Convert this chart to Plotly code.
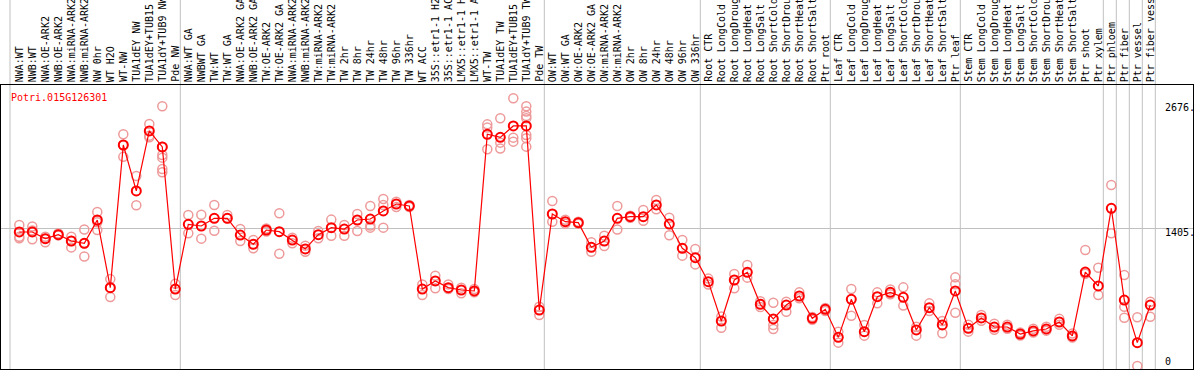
import plotly.graph_objects as go

labels = [
    "NWA:WT", "NWB:WT", "NWA:OE-ARK2", "NWB:OE-ARK2", "NWA:miRNA-ARK2", "NWB:miRNA-ARK2",
    "NW 0hr", "WT H2O", "WT-NW", "TUA1dEY NW", "TUA1dEY+TUB15", "TUA1dY+TUB9 NW", "Pde NW",
    "NWA:WT GA", "NWBWT GA", "TW:WT", "TW:WT GA", "NWA:OE-ARK2 GA", "NWB:OE-ARK2 GA",
    "TW:OE-ARK2", "TW:OE-ARK2 GA", "NWA:miRNA-ARK2", "NWB:miRNA-ARK2", "TW:miRNA-ARK2",
    "TW:miRNA-ARK2", "TW 2hr", "TW 8hr", "TW 24hr", "TW 48hr", "TW 96hr", "TW 336hr", "WT ACC",
    "35S::etr1-1 H2", "35S::etr1-1 AC", "LMX5::etr1-1 H", "LMX5::etr1-1 A", "WT-TW",
    "TUA1dEY TW", "TUA1dEY+TUB15", "TUA1dY+TUB9 TW", "Pde TW",
    "OW:WT", "OW:WT GA", "OW:OE-ARK2", "OW:OE-ARK2 GA", "OW:miRNA-ARK2", "OW:miRNA-ARK2",
    "OW 2hr", "OW 8hr", "OW 24hr", "OW 48hr", "OW 96hr", "OW 336hr",
    "Root CTR", "Root LongCold", "Root LongDroug", "Root LongHeat", "Root LongSalt",
    "Root ShortCold", "Root ShortDrou", "Root ShortHeat", "Root ShortSalt", "Ptr root",
    "Leaf CTR", "Leaf LongCold", "Leaf LongDroug", "Leaf LongHeat", "Leaf LongSalt",
    "Leaf ShortCold", "Leaf ShortDrou", "Leaf ShortHeat", "Leaf ShortSalt", "Ptr leaf",
    "Stem CTR", "Stem LongCold", "Stem LongDroug", "Stem LongHeat", "Stem LongSalt",
    "Stem ShortCold", "Stem ShortDrou", "Stem ShortHeat", "Stem ShortSalt", "Ptr shoot",
    "Ptr xylem", "Ptr phloem", "Ptr fiber", "Ptr vessel", "Ptr fiber vess",
]

means = [
    1365, 1365, 1297, 1338, 1273, 1250, 1487, 798, 2251, 1783, 2394, 2231, 784,
    1443, 1426, 1504, 1504, 1334, 1240, 1385, 1368, 1283, 1192, 1338, 1409, 1395, 1487,
    1497, 1579, 1650, 1630, 784, 866, 798, 774, 764, 2360, 2329, 2445, 2445, 570,
    1548, 1470, 1460, 1209, 1273, 1504, 1521, 1521, 1640, 1446, 1199, 1103,
    859, 458, 876, 954, 628, 479, 621, 713, 486, 577,
    292, 679, 349, 706, 750, 700, 367, 594, 418, 764,
    384, 489, 397, 397, 326, 357, 377, 448, 306, 957, 815,
    1606, 672, 238, 621,
]

replicates = [
    [1436, 1317, 1300], [1420, 1290, 1380], [1317, 1260, 1297], [1350, 1330],
    [1317, 1273, 1208], [1391, 1116, 1250], [1568, 1385, 1463], [885, 702, 798],
    [2360, 2130, 2251], [1936, 1637], [2465, 2346, 2330],
    [2645, 2232, 2149, 2122, 2007, 1973], [838, 723],
    [1538, 1352], [1541, 1297], [1640, 1377], [1538, 1504], [1395, 1273], [1284, 1198],
    [1400, 1370], [1555, 1144], [1307, 1250], [1226, 1164], [1375, 1300], [1491, 1327],
    [1436, 1327], [1548, 1375], [1630, 1409, 1430], [1701, 1409, 1640], [1674, 1620],
    [1640, 1620], [831, 723], [920, 791], [831, 784], [798, 740], [784, 750],
    [2461, 2428, 2207], [2523, 2275, 2214], [2727, 2326, 2285],
    [2645, 2591, 2547, 2523, 2353, 2319, 2234], [604, 519],
    [1681, 1470], [1490, 1450], [1450, 1470], [1260, 1164], [1327, 1222], [1630, 1391],
    [1530, 1510], [1589, 1480], [1691, 1596], [1510, 1331], [1284, 1124], [1192, 1035],
    [830, 890], [503, 390], [937, 791], [1029, 900], [660, 600], [645, 418, 377],
    [655, 553], [750, 690], [500, 470], [590, 560],
    [349, 238], [784, 512], [418, 309], [750, 638], [780, 730], [801, 615], [309, 400],
    [638, 560], [458, 333], [903, 832, 543],
    [420, 350], [520, 460], [430, 370], [420, 380], [340, 310], [380, 340], [400, 360],
    [480, 420], [330, 290], [1182, 940], [1000, 723],
    [1844, 1352], [927, 604, 492], [496, 0], [655, 502],
]

group_starts = [0, 13, 41, 53, 63, 73, 84, 85, 86, 87, 88]
gene_name = "Potri.015G126301"
ytick_values = [2676, 1405, 0]
ytick_texts = ["2676.", "1405.", "0"]

MONO = "DejaVu Sans Mono"
GRID = "#C0C0C0"

fig = go.Figure()

rx, ry = [], []
for i, reps in enumerate(replicates):
    for v in reps:
        rx.append(i)
        ry.append(v)

fig.add_trace(go.Scatter(
    x=rx, y=ry, mode="markers",
    marker=dict(symbol="circle-open", size=9, color="#EE9A9A", line=dict(width=1.5)),
    hoverinfo="skip",
))
fig.add_trace(go.Scatter(
    x=list(range(len(means))), y=means, mode="lines+markers",
    line=dict(color="#FF0000", width=1.2),
    marker=dict(symbol="circle-open", size=9, color="#FF0000", line=dict(width=2)),
))

shapes = []
for s in group_starts:
    xb = s - (0.715 if s == 0 else 0.615)
    shapes.append(dict(type="line", xref="x", yref="paper", x0=xb, x1=xb, y0=0, y1=1.31,
                       line=dict(color=GRID, width=1), layer="below"))

annotations = []
for i, lab in enumerate(labels):
    annotations.append(dict(
        x=i, xref="x", y=1, yref="paper", yanchor="bottom", xanchor="center",
        text=lab, textangle=-90, showarrow=False, yshift=1,
        font=dict(family=MONO, size=10, color="black"),
    ))

annotations.append(dict(
    x=0.0067, xref="paper", y=(369 - 97) / 284, yref="paper", xanchor="left", yanchor="middle",
    text=gene_name, showarrow=False, font=dict(family=MONO, size=10, color="#FF0000"),
))

for v, t in zip(ytick_values, ytick_texts):
    annotations.append(dict(
        x=87.98, xref="x", y=v, yref="y", xanchor="left", yanchor="middle",
        text=t, showarrow=False, yshift=(4.3 if v == 0 else -4.4),
        font=dict(family=MONO, size=10, color="black"),
    ))

fig.update_layout(
    width=1194, height=370,
    margin=dict(l=1, r=1, t=85, b=1),
    paper_bgcolor="white", plot_bgcolor="white",
    showlegend=False,
    shapes=shapes, annotations=annotations,
    xaxis=dict(range=[-1.4077, 90.285], showgrid=False, zeroline=False, showticklabels=False,
               showline=True, mirror=True, linecolor="black", linewidth=1, ticks=""),
    yaxis=dict(range=[-30.6, 2862], tickvals=[1405], showgrid=True, gridcolor=GRID, gridwidth=1,
               showticklabels=False, zeroline=False, showline=True, mirror=True,
               linecolor="black", linewidth=1, ticks=""),
)

fig.write_html(
    "out.html",
    config={"displayModeBar": False},
    post_script="document.body.style.margin='0';document.body.style.padding='0';"
                "document.body.style.overflow='hidden';",
)
